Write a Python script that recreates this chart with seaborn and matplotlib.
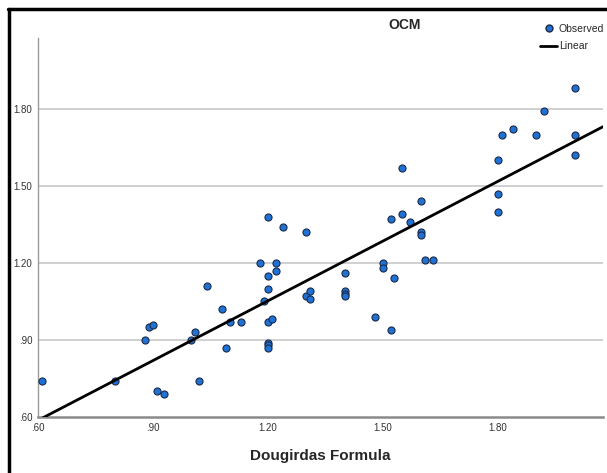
import numpy as np
import pandas as pd
import seaborn as sns
import matplotlib.pyplot as plt
from matplotlib.lines import Line2D

sns.set_style("white")
plt.rcParams['font.family'] = ['Liberation Sans', 'DejaVu Sans']

# 数据：Dougirdas 公式 vs OCM
dougirdas = [0.61, 0.80, 0.88, 0.89, 0.90, 0.91, 0.93, 1.00, 1.01, 1.02,
             1.04, 1.08, 1.09, 1.10, 1.13, 1.18, 1.19, 1.20, 1.20, 1.20,
             1.20, 1.20, 1.20, 1.20, 1.21, 1.22, 1.22, 1.24, 1.30, 1.30,
             1.31, 1.31, 1.40, 1.40, 1.40, 1.40, 1.48, 1.50, 1.50, 1.52,
             1.52, 1.53, 1.55, 1.55, 1.57, 1.60, 1.60, 1.60, 1.61, 1.63,
             1.80, 1.80, 1.80, 1.81, 1.84, 1.90, 1.92, 2.00, 2.00, 2.00]
ocm = [0.74, 0.74, 0.90, 0.95, 0.96, 0.70, 0.69, 0.90, 0.93, 0.74,
       1.11, 1.02, 0.87, 0.97, 0.97, 1.20, 1.05, 1.38, 1.15, 1.10,
       0.97, 0.89, 0.88, 0.87, 0.98, 1.20, 1.17, 1.34, 1.32, 1.07,
       1.09, 1.06, 1.16, 1.09, 1.08, 1.07, 0.99, 1.20, 1.18, 0.94,
       1.37, 1.14, 1.57, 1.39, 1.36, 1.44, 1.32, 1.31, 1.21, 1.21,
       1.60, 1.47, 1.40, 1.70, 1.72, 1.70, 1.79, 1.88, 1.70, 1.62]
ticks = [0.60, 0.90, 1.20, 1.50, 1.80]
tick_labels = [".60", ".90", "1.20", "1.50", "1.80"]

df = pd.DataFrame({"dougirdas": dougirdas, "ocm": ocm})

fig = plt.figure(figsize=(6.07, 4.73), dpi=100)
ax = fig.add_axes([38 / 607, 1 - 417 / 473, 565 / 607, 379 / 473])
ax.set_xlim(0.6, 2.074)
ax.set_ylim(0.6, 2.076)

# 网格线
for t in ticks[1:]:
    ax.axhline(t, color="#c8c8c8", lw=1.2, zorder=0)

sns.regplot(data=df, x="dougirdas", y="ocm", ax=ax, ci=None, truncate=False,
            scatter_kws=dict(s=26, color="#1f72d4", edgecolor="#1b2a4a",
                             linewidths=0.8, alpha=1, zorder=3),
            line_kws=dict(color="black", lw=2.0, zorder=4))
ax.set_xlim(0.6, 2.074)
ax.set_ylim(0.6, 2.076)

ax.set_xticks(ticks)
ax.set_xticklabels(tick_labels)
ax.set_yticks(ticks)
ax.set_yticklabels(tick_labels)
ax.tick_params(axis="both", length=0, labelsize=7, colors="#333333", pad=4)
ax.set_xlabel("Dougirdas Formula", fontsize=11, fontweight="bold", labelpad=12)
ax.set_ylabel("")

for s in ["top", "right"]:
    ax.spines[s].set_visible(False)
ax.spines["left"].set_color("#9a9a9a")
ax.spines["left"].set_linewidth(1.0)
ax.spines["bottom"].set_color("#8a8a8a")
ax.spines["bottom"].set_linewidth(1.8)

fig.text(405 / 607, 1 - 25 / 473, "OCM", ha="center", va="center",
         fontsize=10, fontweight="bold")

# 图例
handles = [Line2D([], [], marker="o", ls="none", markersize=5,
                  markerfacecolor="#1f72d4", markeredgecolor="#1b2a4a"),
           Line2D([], [], color="black", lw=2.0)]
fig.legend(handles, ["Observed", "Linear"], loc="upper right",
           bbox_to_anchor=(604 / 607, 1 - 24 / 473), frameon=False,
           fontsize=7.5, handlelength=1.6, handletextpad=0.15,
           labelspacing=0.7, borderaxespad=0, borderpad=0)

# 外框（上、左）
fig.add_artist(Line2D([8 / 607, 1], [1 - 9 / 473, 1 - 9 / 473], color="black",
                      lw=2.5, transform=fig.transFigure))
fig.add_artist(Line2D([9 / 607, 9 / 607], [0, 1 - 9 / 473], color="black",
                      lw=2.5, transform=fig.transFigure))

fig.savefig("out.png", dpi=100)
